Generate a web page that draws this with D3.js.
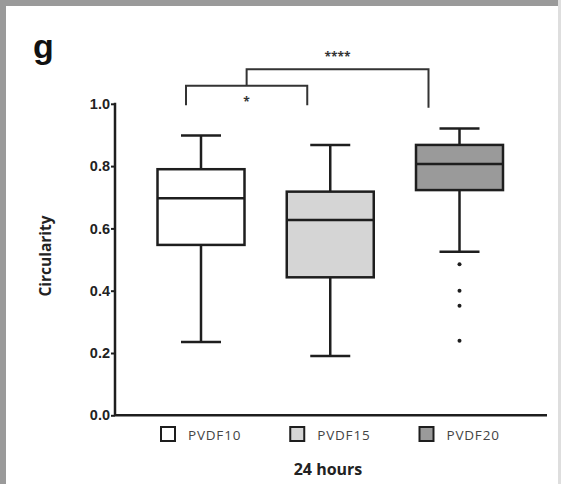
<!DOCTYPE html>
<html>
<head>
<meta charset="utf-8">
<script src="https://cdn.jsdelivr.net/npm/d3@7"></script>
<style>
  body { margin: 0; background: #fff; }
  svg { display: block; font-family: "Open Sans", "Liberation Sans", sans-serif; }
  .tick text { font-weight: bold; font-size: 14.5px; fill: #222; }
</style>
</head>
<body>
<svg width="561" height="484"></svg>
<script>
// data
const groups = ['PVDF10', 'PVDF15', 'PVDF20'];
const whiskerLow = [0.235, 0.19, 0.525];
const q1 = [0.547, 0.443, 0.723];
const median = [0.697, 0.627, 0.807];
const q3 = [0.79, 0.718, 0.868];
const whiskerHigh = [0.898, 0.868, 0.921];
const outliers = [[], [], [0.485, 0.40, 0.352, 0.239]];
const fills = ['#ffffff', '#d5d5d5', '#9a9a9a'];
const yTicks = [0, 0.2, 0.4, 0.6, 0.8, 1.0];

const svg = d3.select('svg');
const ink = '#1e1e1e';

// gray frame of the panel
svg.append('rect').attr('x', 0).attr('y', 0).attr('width', 561).attr('height', 6).attr('fill', '#9a9a9a');
svg.append('rect').attr('x', 0).attr('y', 0).attr('width', 6).attr('height', 484).attr('fill', '#9a9a9a');
svg.append('rect').attr('x', 558).attr('y', 0).attr('width', 3).attr('height', 484).attr('fill', '#dedede');

const plotLeft = 115, plotRight = 547, plotTop = 103.8, plotBottom = 415.3;

const y = d3.scaleLinear().domain([0, 1]).range([plotBottom, plotTop]);
const x = d3.scalePoint().domain(groups).range([201, 459.5]);

const boxW = 87, capW = 40;

// y axis
const yAxis = svg.append('g')
  .attr('transform', `translate(${plotLeft},0)`)
  .call(d3.axisLeft(y).tickValues(yTicks).tickFormat(d3.format('.1f')).tickSize(4).tickPadding(1));
yAxis.select('.domain').remove();
yAxis.selectAll('.tick line').attr('stroke', ink).attr('stroke-width', 2);

svg.append('line')
  .attr('x1', plotLeft).attr('x2', plotLeft).attr('y1', y(1) - 1).attr('y2', plotBottom)
  .attr('stroke', ink).attr('stroke-width', 2.5);
svg.append('line')
  .attr('x1', plotLeft).attr('x2', plotRight).attr('y1', plotBottom).attr('y2', plotBottom)
  .attr('stroke', ink).attr('stroke-width', 2.5);

// boxes
const boxes = svg.selectAll('g.box')
  .data(groups)
  .enter()
  .append('g')
  .attr('class', 'box');

boxes.append('line')
  .attr('x1', d => x(d)).attr('x2', d => x(d))
  .attr('y1', (d, i) => y(whiskerHigh[i])).attr('y2', (d, i) => y(whiskerLow[i]))
  .attr('stroke', ink).attr('stroke-width', 2.5);

boxes.append('rect')
  .attr('x', d => x(d) - boxW / 2)
  .attr('y', (d, i) => y(q3[i]))
  .attr('width', boxW)
  .attr('height', (d, i) => y(q1[i]) - y(q3[i]))
  .attr('fill', (d, i) => fills[i])
  .attr('stroke', ink).attr('stroke-width', 2.5);

boxes.append('line')
  .attr('x1', d => x(d) - boxW / 2).attr('x2', d => x(d) + boxW / 2)
  .attr('y1', (d, i) => y(median[i])).attr('y2', (d, i) => y(median[i]))
  .attr('stroke', ink).attr('stroke-width', 2.5);

[whiskerHigh, whiskerLow].forEach(arr => {
  boxes.append('line')
    .attr('x1', d => x(d) - capW / 2).attr('x2', d => x(d) + capW / 2)
    .attr('y1', (d, i) => y(arr[i])).attr('y2', (d, i) => y(arr[i]))
    .attr('stroke', ink).attr('stroke-width', 2.5);
});

boxes.selectAll('circle')
  .data((d, i) => outliers[i].map(v => ({ g: d, v: v })))
  .enter()
  .append('circle')
  .attr('cx', o => x(o.g))
  .attr('cy', o => y(o.v))
  .attr('r', 2)
  .attr('fill', ink);

// significance brackets
const brackets = [
  { x1: x('PVDF10') - 15, x2: x('PVDF15') - 23, yb: 1.058, yl: 0.995, yr: 0.995, label: '*' },
  { x1: null, x2: x('PVDF20') - 31, yb: 1.111, yl: 1.058, yr: 0.987, label: '****' }
];
brackets[1].x1 = (brackets[0].x1 + brackets[0].x2) / 2;

brackets.forEach(b => {
  svg.append('path')
    .attr('d', `M${b.x1},${y(b.yl)}V${y(b.yb)}H${b.x2}V${y(b.yr)}`)
    .attr('fill', 'none').attr('stroke', '#333').attr('stroke-width', 2);
  svg.append('text')
    .attr('x', (b.x1 + b.x2) / 2)
    .attr('y', y(b.yb) + (b.label === '*' ? 20 : -8))
    .attr('text-anchor', 'middle')
    .attr('font-size', 12)
    .attr('font-weight', 'bold')
    .attr('fill', '#333')
    .text(b.label);
});

// legend
const legend = svg.selectAll('g.legend')
  .data(groups)
  .enter()
  .append('g')
  .attr('class', 'legend')
  .attr('transform', d => `translate(${x(d) - 40},427)`);

legend.append('rect')
  .attr('x', 0).attr('y', 0).attr('width', 14).attr('height', 14)
  .attr('fill', (d, i) => fills[i])
  .attr('stroke', ink).attr('stroke-width', 2);

legend.append('text')
  .attr('x', 27).attr('y', 12.5)
  .attr('font-size', 13.5)
  .attr('letter-spacing', 0.8)
  .attr('fill', '#444')
  .text(d => d);

// labels
svg.append('text')
  .attr('x', 33).attr('y', 58)
  .attr('font-family', 'Liberation Sans, Arial, sans-serif')
  .attr('font-size', 34)
  .attr('font-weight', 'bold')
  .attr('fill', '#111')
  .text('g');

svg.append('text')
  .attr('transform', 'translate(51,256) rotate(-90)')
  .attr('text-anchor', 'middle')
  .attr('font-size', 15.5)
  .attr('font-weight', 'bold')
  .attr('fill', '#222')
  .text('Circularity');

svg.append('text')
  .attr('x', 328).attr('y', 475)
  .attr('text-anchor', 'middle')
  .attr('font-size', 16)
  .attr('font-weight', 'bold')
  .attr('fill', '#222')
  .text('24 hours');
</script>
</body>
</html>
